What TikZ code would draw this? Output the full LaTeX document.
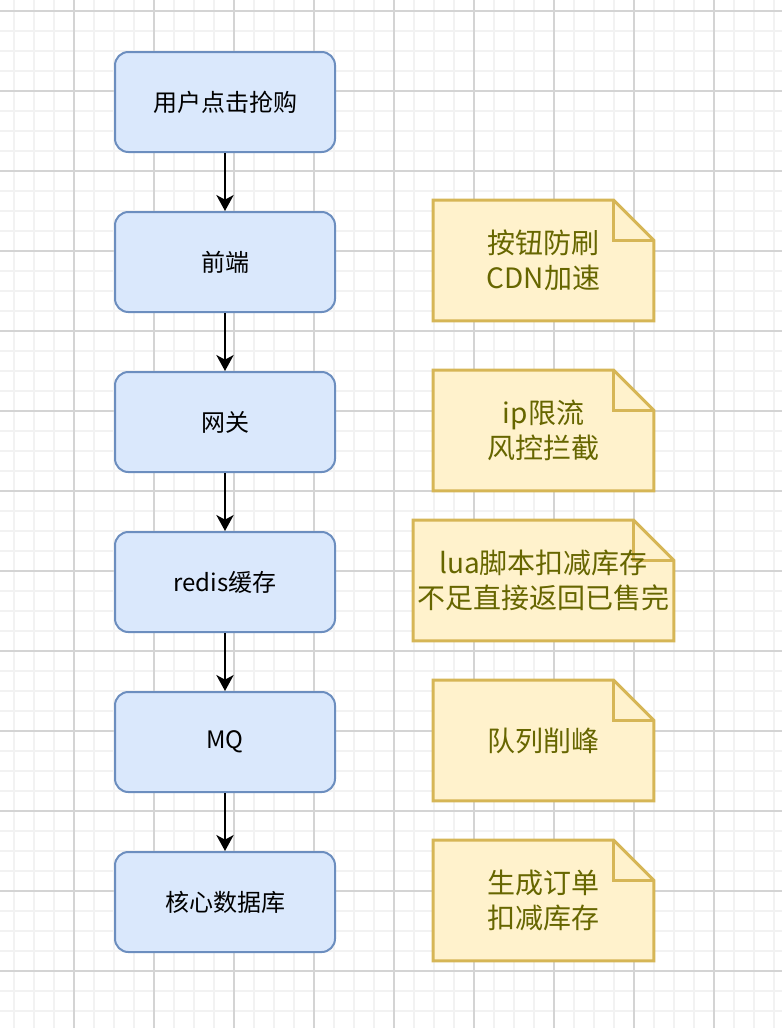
\documentclass[tikz,border=0pt]{standalone}
\usepackage{fontspec}
\setmainfont{Noto Sans CJK SC}
\usetikzlibrary{arrows.meta}

\definecolor{boxfill}{RGB}{218,232,252}
\definecolor{boxline}{RGB}{108,142,191}
\definecolor{notefill}{RGB}{255,242,204}
\definecolor{noteline}{RGB}{214,182,86}
\definecolor{notetext}{RGB}{102,102,0}
\definecolor{gridminor}{RGB}{242,242,242}
\definecolor{gridmajor}{RGB}{212,212,212}

\tikzset{
  stepbox/.style={draw=boxline, fill=boxfill, line width=1.5pt, rounded corners=10pt,
    minimum width=165pt, minimum height=75pt, font=\fontsize{18}{22}\selectfont, align=center},
  notebox/.style={minimum width=165pt, minimum height=90pt, text=notetext,
    font=\fontsize{21}{26}\selectfont, align=center},
  widenote/.style={notebox, minimum width=195pt},
  flow/.style={line width=1.5pt, -{Stealth[length=12pt,width=13pt,inset=3.5pt]}},
}

% note with folded corner around a named node
\newcommand{\notepath}[1]{%
  \draw[draw=noteline, fill=notefill, line width=2.25pt, line join=miter]
    (#1.south west) -- (#1.north west) -- ([xshift=-30pt]#1.north east)
    -- ([yshift=30pt]#1.north east) -- (#1.south east) -- cycle;
  \draw[draw=noteline, line width=2.25pt]
    ([xshift=-30pt]#1.north east) -- ([xshift=-30pt,yshift=30pt]#1.north east)
    -- ([yshift=30pt]#1.north east);}

\begin{document}
\begin{tikzpicture}[x=0.75pt,y=0.75pt,yscale=-1,xscale=1]
\useasboundingbox (0,0) rectangle (782,1028);
\fill[white] (0,0) rectangle (782,1028);

%Grid
\foreach \gx in {14,34,...,774} \draw[gridminor, line width=1.5pt] (\gx,0) -- (\gx,1028);
\foreach \gy in {11,31,...,1021} \draw[gridminor, line width=1.5pt] (0,\gy) -- (782,\gy);
\foreach \gx in {74,154,...,714} \draw[gridmajor, line width=1pt] (\gx,0) -- (\gx,1028);
\foreach \gy in {11,91,...,971} \draw[gridmajor, line width=1pt] (0,\gy) -- (782,\gy);

%Flow steps
\node[stepbox] (click) at (225,102) {用户点击抢购};
\node[stepbox] (front) at (225,262) {前端};
\node[stepbox] (gate) at (225,422) {网关};
\node[stepbox] (cache) at (225,582) {redis缓存};
\node[stepbox] (mq) at (225,742) {MQ};
\node[stepbox] (db) at (225,902) {核心数据库};

\draw[flow] (click) -- (front);
\draw[flow] (front) -- (gate);
\draw[flow] (gate) -- (cache);
\draw[flow] (cache) -- (mq);
\draw[flow] (mq) -- (db);

%Notes
\node[notebox] (frontnote) at (543.5,260.5) {};
\notepath{frontnote}
\node[notebox] at (frontnote) {按钮防刷\\CDN加速};

\node[notebox] (gatenote) at (543.5,430.5) {};
\notepath{gatenote}
\node[notebox] at (gatenote) {ip限流\\风控拦截};

\node[widenote] (cachenote) at (543.5,580.5) {};
\notepath{cachenote}
\node[widenote] at (cachenote) {lua脚本扣减库存\\不足直接返回已售完};

\node[notebox] (mqnote) at (543.5,740.5) {};
\notepath{mqnote}
\node[notebox] at (mqnote) {队列削峰};

\node[notebox] (dbnote) at (543.5,900.5) {};
\notepath{dbnote}
\node[notebox] at (dbnote) {生成订单\\扣减库存};

\end{tikzpicture}
\end{document}
